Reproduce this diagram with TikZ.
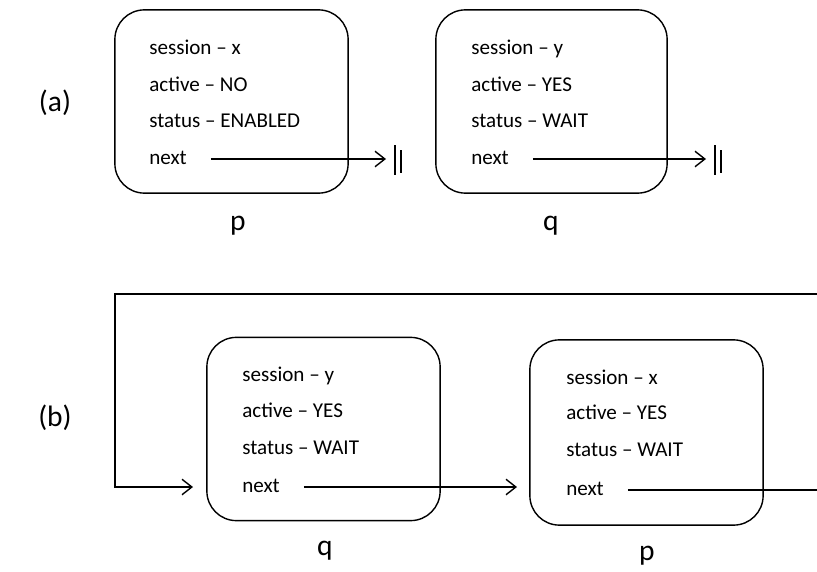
\documentclass[tikz,border=0pt]{standalone}
\usepackage{fontspec}
\setmainfont{Carlito}
\usetikzlibrary{arrows.meta}

\tikzset{
    record/.style={draw, line width=1pt, rounded corners=21pt, minimum width=5.83cm, minimum height=4.58cm},
    field/.style={anchor=west, inner sep=0pt, text height=0.72em, text depth=0em, font=\fontsize{15}{18}\selectfont},
    tag/.style={inner sep=0pt, font=\fontsize{21}{25}\selectfont},
    ptr/.style={line width=1pt, -{Straight Barb[length=7pt,width=11pt,line width=1pt]}},
    wire/.style={line width=1pt},
}

\begin{document}
\begin{tikzpicture}[x=0.025cm, y=-0.025cm]
    \useasboundingbox (0,0) rectangle (817,572);
    \node [tag] (la) at (55,103) {(a)};
    \node [tag] (lb) at (55,418) {(b)};

    \node [record] (pa) at (231.5,101.5) {};
    \node [field] (pas) at (149,49) {session -- x};
    \node [field] (paa) at (149,86) {active -- NO};
    \node [field] (pat) at (149,122) {status -- ENABLED};
    \node [field] (pan) at (149,159) {next};
    \node [tag] (pal) at (238,226) {p};

    \node [record, minimum width=5.78cm] (qa) at (551.5,101.5) {};
    \node [field] (qas) at (471,49) {session -- y};
    \node [field] (qaa) at (471,86) {active -- YES};
    \node [field] (qat) at (471,122) {status -- WAIT};
    \node [field] (qan) at (471,159) {next};
    \node [tag] (qal) at (551,226) {q};

    \coordinate (panil) at (386,159);
    \coordinate (qanil) at (706,159);
    \draw [ptr] ([xshift=17pt]pan.east) -- (panil);
    \draw [ptr] ([xshift=17pt]qan.east) -- (qanil);
    \draw [wire] (395,145) -- (395,175) (401,150) -- (401,173);
    \draw [wire] (715,145) -- (715,175) (721,150) -- (721,173);

    \node [record] (qb) at (323.5,429) {};
    \node [field] (qbs) at (242,376) {session -- y};
    \node [field] (qba) at (242,412) {active -- YES};
    \node [field] (qbt) at (242,449) {status -- WAIT};
    \node [field] (qbn) at (242,487) {next};
    \node [tag] (qbl) at (325,551) {q};

    \node [record, minimum height=4.63cm] (pb) at (646.5,432.5) {};
    \node [field] (pbs) at (566,379) {session -- x};
    \node [field] (pba) at (566,414) {active -- YES};
    \node [field] (pbt) at (566,451) {status -- WAIT};
    \node [field] (pbn) at (566,490) {next};
    \node [tag] (pbl) at (647,556) {p};

    \coordinate (topr) at (817,294);
    \coordinate (topl) at (115,294);
    \coordinate (inq) at (193,487);
    \coordinate (inp) at (517,487);
    \coordinate (outp) at (817,490);
    \draw [ptr] (topr) -- (topl) |- (inq);
    \draw [ptr] ([xshift=17pt]qbn.east) -- (inp);
    \draw [wire] ([xshift=17pt]pbn.east) -- (outp);
\end{tikzpicture}
\end{document}
